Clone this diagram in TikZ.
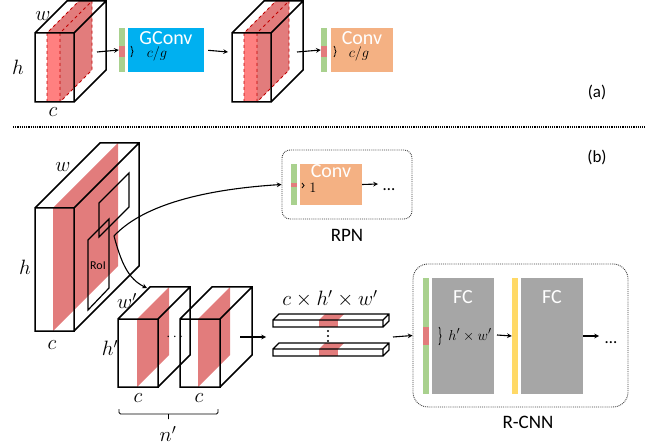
\documentclass[tikz,border=0pt]{standalone}
\usepackage{amsmath}
\usepackage{fontspec}
\setmainfont{Carlito}
\usepackage{xcolor}
\definecolor{slab-red}{RGB}{226,124,124}
\definecolor{slab-pink}{RGB}{255,128,128}
\definecolor{edge-red}{RGB}{192,0,0}
\definecolor{bar-green}{RGB}{169,209,142}
\definecolor{bar-yellow}{RGB}{255,217,102}
\definecolor{conv-orange}{RGB}{244,177,131}
\definecolor{gconv-blue}{RGB}{0,176,240}
\definecolor{fc-gray}{RGB}{166,166,166}
\usepackage{tikz}
\usetikzlibrary{calc,decorations.pathreplacing}

% feature map with one channel slice: x, y (front top left), width, height, depth, slice offset
\newcommand{\featcube}[6]{%
	\fill[slab-red] (#1+#6,#2) -- ++(#5,-#5) -- ++(0,#4) -- ++(-#5,#5) -- cycle;
	\draw[cubeline] (#1,#2) rectangle ++(#3,#4)
		(#1,#2) -- ++(#5,-#5) -- ++(#3,0) -- ++(0,#4) -- ++(-#5,#5)
		(#1+#3,#2) -- ++(#5,-#5);
}
% feature map with a group of channels (thick slab), shifted by #1
\newcommand{\groupcube}[1]{%
	\begin{scope}[shift={(#1,0)}]
	\fill[slab-red] (47,33) -- (79,1) -- (92,1) -- (92,70) -- (60,102) -- (60,33) -- cycle;
	\fill[slab-pink] (47,33) rectangle (60,102);
	\draw[slabedge] (47,102) -- (47,33) -- (79,1)
		(60,102) -- (60,33) -- (92,1) -- (92,70) -- (60,102);
	\draw[cubeline] (35,33) rectangle (74,102)
		(35,33) -- (67,1) -- (106,1) -- (106,70) -- (74,102)
		(74,33) -- (106,1);
	\end{scope}
}

\begin{document}
\begin{tikzpicture}[x=1pt,y=-1pt,>=stealth,
	cubeline/.style={line width=1.5pt},
	slabedge/.style={edge-red,dashed,line width=0.9pt},
	flow/.style={->,line width=1.1pt},
	bar/.style={inner sep=0pt,minimum width=6pt},
	box/.style={inner sep=0pt},
	boxtext/.style={text=white,inner sep=0pt,anchor=base,font=\fontsize{20}{24}\selectfont},
	mlabel/.style={font=\fontsize{20}{24}\selectfont},
	slabel/.style={inner sep=0pt,font=\fontsize{14}{16}\selectfont},
	brc/.style={decorate,decoration={brace,amplitude=2pt},line width=0.8pt},
	frame/.style={draw=black!75,densely dotted,line width=0.9pt,inner sep=0pt}]
	\useasboundingbox (0,0) rectangle (645,446);

%	(a) group convolution
	\groupcube{0}
	\groupcube{197}
	\node[mlabel] (wa) at (43,16) {$w$};
	\node[mlabel] (ha) at (18,67) {$h$};
	\node[mlabel] (ca) at (53,112) {$c$};
	
	\node[bar,fill=bar-green,minimum height=44pt] (ga) at (122,50) {};
	\node[bar,fill=slab-red,minimum height=11pt] (ra) at (122,51.5) {};
	\node[box,fill=gconv-blue,minimum width=76pt,minimum height=44pt] (gconv) at (166,50) {};
	\node[boxtext] (gconvtxt) at (166,45) {GConv};
	\draw[brc] (131,46) -- (131,57);
	\node[slabel] (cga) at (157,54) {$c/g$};
	
	\node[bar,fill=bar-green,minimum height=44pt] (gb) at (324,50) {};
	\node[bar,fill=slab-red,minimum height=11pt] (rb) at (324,51.5) {};
	\node[box,fill=conv-orange,minimum width=62pt,minimum height=44pt] (conva) at (362,50) {};
	\node[boxtext] (convatxt) at (362,45) {Conv};
	\draw[brc] (334,46) -- (334,57);
	\node[slabel] (cgb) at (359,54) {$c/g$};
	
	\coordinate (outa) at (97,52);
	\coordinate (ina) at (228,52);
	\coordinate (outb) at (297,52);
	\draw[flow] (outa) -- (ga.west);
	\draw[flow,shorten <=4pt] (gconv.east) -- (ina);
	\draw[flow] (outb) -- (gb.west);
	
	\node[font=\fontsize{17}{20}\selectfont] (parta) at (597,92) {(a)};
	
	\draw[densely dotted,line width=1.2pt] (13,127) -- (645,127);
	
%	=======================================
%	(b) RoI head

	\node[font=\fontsize{17}{20}\selectfont] (partb) at (597,157) {(b)};
	
	\featcube{35}{208}{39}{123}{65}{18}
	\draw[line width=1.2pt] (99,203) -- (129,173) -- (129,207) -- (99,237) -- cycle;
	\draw[line width=1.2pt] (88,240) -- (109,219) -- (109,288) -- (88,310) -- cycle;
	\node[font=\fontsize{12}{14}\selectfont] (roi) at (98,266) {RoI};
	\node[mlabel] (wb) at (63,167) {$w$};
	\node[mlabel] (hb) at (25,267) {$h$};
	\node[mlabel] (cb) at (52,345) {$c$};
	\coordinate (roiout) at (114,236);
	
	% pooled RoI features
	\featcube{118}{319}{40}{68}{32}{19}
	\featcube{180}{319}{40}{68}{32}{18}
	\node[mlabel] (wp) at (127,301) {$w'$};
	\node[mlabel] (hp) at (110,348) {$h'$};
	\node[mlabel] (cp1) at (138,398) {$c$};
	\node[mlabel] (cp2) at (199,398) {$c$};
	\node[slabel] (dotsp) at (176,337) {$\cdots$};
	\draw[line width=0.8pt,rounded corners=1.5pt] (119,409) -- (119,414) -- (218,414) -- (218,409)
		(168.5,414) -- (168.5,419);
	\node[mlabel] (np) at (168,434) {$n'$};
	\coordinate (poolin) at (147,288);
	\coordinate (poolout) at (240,337);
	
	% RPN
	\node[frame,rounded corners=8pt,minimum width=130pt,minimum height=69pt] (rpn) at (347,184.5) {};
	\node[font=\fontsize{19}{22}\selectfont] (rpntxt) at (347,235) {RPN};
	\node[bar,fill=bar-green,minimum height=41pt] (gc) at (294,184.5) {};
	\node[bar,fill=slab-red,minimum height=4pt] (rc) at (294,185) {};
	\node[box,fill=conv-orange,minimum width=62pt,minimum height=41pt] (convb) at (331,184.5) {};
	\node[boxtext] (convbtxt) at (331,178) {Conv};
	\draw[brc] (302,183) -- (302,188);
	\node[slabel] (one) at (313,188) {$1$};
	\coordinate (rpnout) at (378,184);
	\node[font=\fontsize{17}{20}\selectfont,anchor=base] (rpndots) at (389,191) {\dots};
	\draw[flow] (convb.east) -- (rpnout);
	
	\draw[flow] (roiout) .. controls (140,208) and (195,190) .. (rpn.west);
	\draw[flow] (roiout) .. controls (121,262) and (128,279) .. (poolin);
	
	% flattened vectors
	\node[mlabel] (vlabel) at (330,299) {$c\times h'\times w'$};
	\foreach \y in {320,349}{
		\fill[slab-red] (319,\y) -- (325,\y-6) -- (344,\y-6) -- (338,\y) -- cycle;
		\fill[slab-red] (319,\y) rectangle (338,\y+7);
		\draw[line width=1.2pt] (273,\y) rectangle (383,\y+7)
			(273,\y) -- (279,\y-6) -- (389,\y-6) -- (389,\y+1) -- (383,\y+7)
			(383,\y) -- (389,\y-6);
	}
	\foreach \y in {331,336,341}
		\fill (328,\y) circle (1.1pt);
	\coordinate (vecin) at (266,337);
	\coordinate (vecout) at (393,337);
	\draw[flow] (poolout) -- (vecin);
	
	% R-CNN
	\node[frame,rounded corners=15pt,minimum width=215pt,minimum height=143pt] (rcnn) at (520.5,335.5) {};
	\node[font=\fontsize{19}{22}\selectfont] (rcnntxt) at (528,422) {R-CNN};
	\node[bar,fill=bar-green,minimum height=116pt] (gd) at (426,336) {};
	\node[bar,fill=slab-red,minimum height=18pt] (rd) at (426,336) {};
	\node[box,fill=fc-gray,minimum width=62pt,minimum height=116pt] (fca) at (463,336) {};
	\node[boxtext] (fcatxt) at (463,304) {FC};
	\draw[brc] (439,327) -- (439,345);
	\node[font=\fontsize{15}{18}\selectfont] (hw) at (470,335) {$h'\times w'$};
	\node[bar,fill=bar-yellow,minimum height=116pt] (yd) at (515,336) {};
	\node[box,fill=fc-gray,minimum width=62pt,minimum height=116pt] (fcb) at (552,336) {};
	\node[boxtext] (fcbtxt) at (552,304) {FC};
	\coordinate (fcaout) at (497,335);
	\coordinate (rcnnout) at (599,336);
	\node[font=\fontsize{17}{20}\selectfont,anchor=base] (rcnndots) at (611,343) {\dots};
	\draw[flow] (vecout) -- (rcnn.west);
	\draw[flow] (fcaout) -- (yd.west);
	\draw[flow] (fcb.east) -- (rcnnout);
\end{tikzpicture}
\end{document}
